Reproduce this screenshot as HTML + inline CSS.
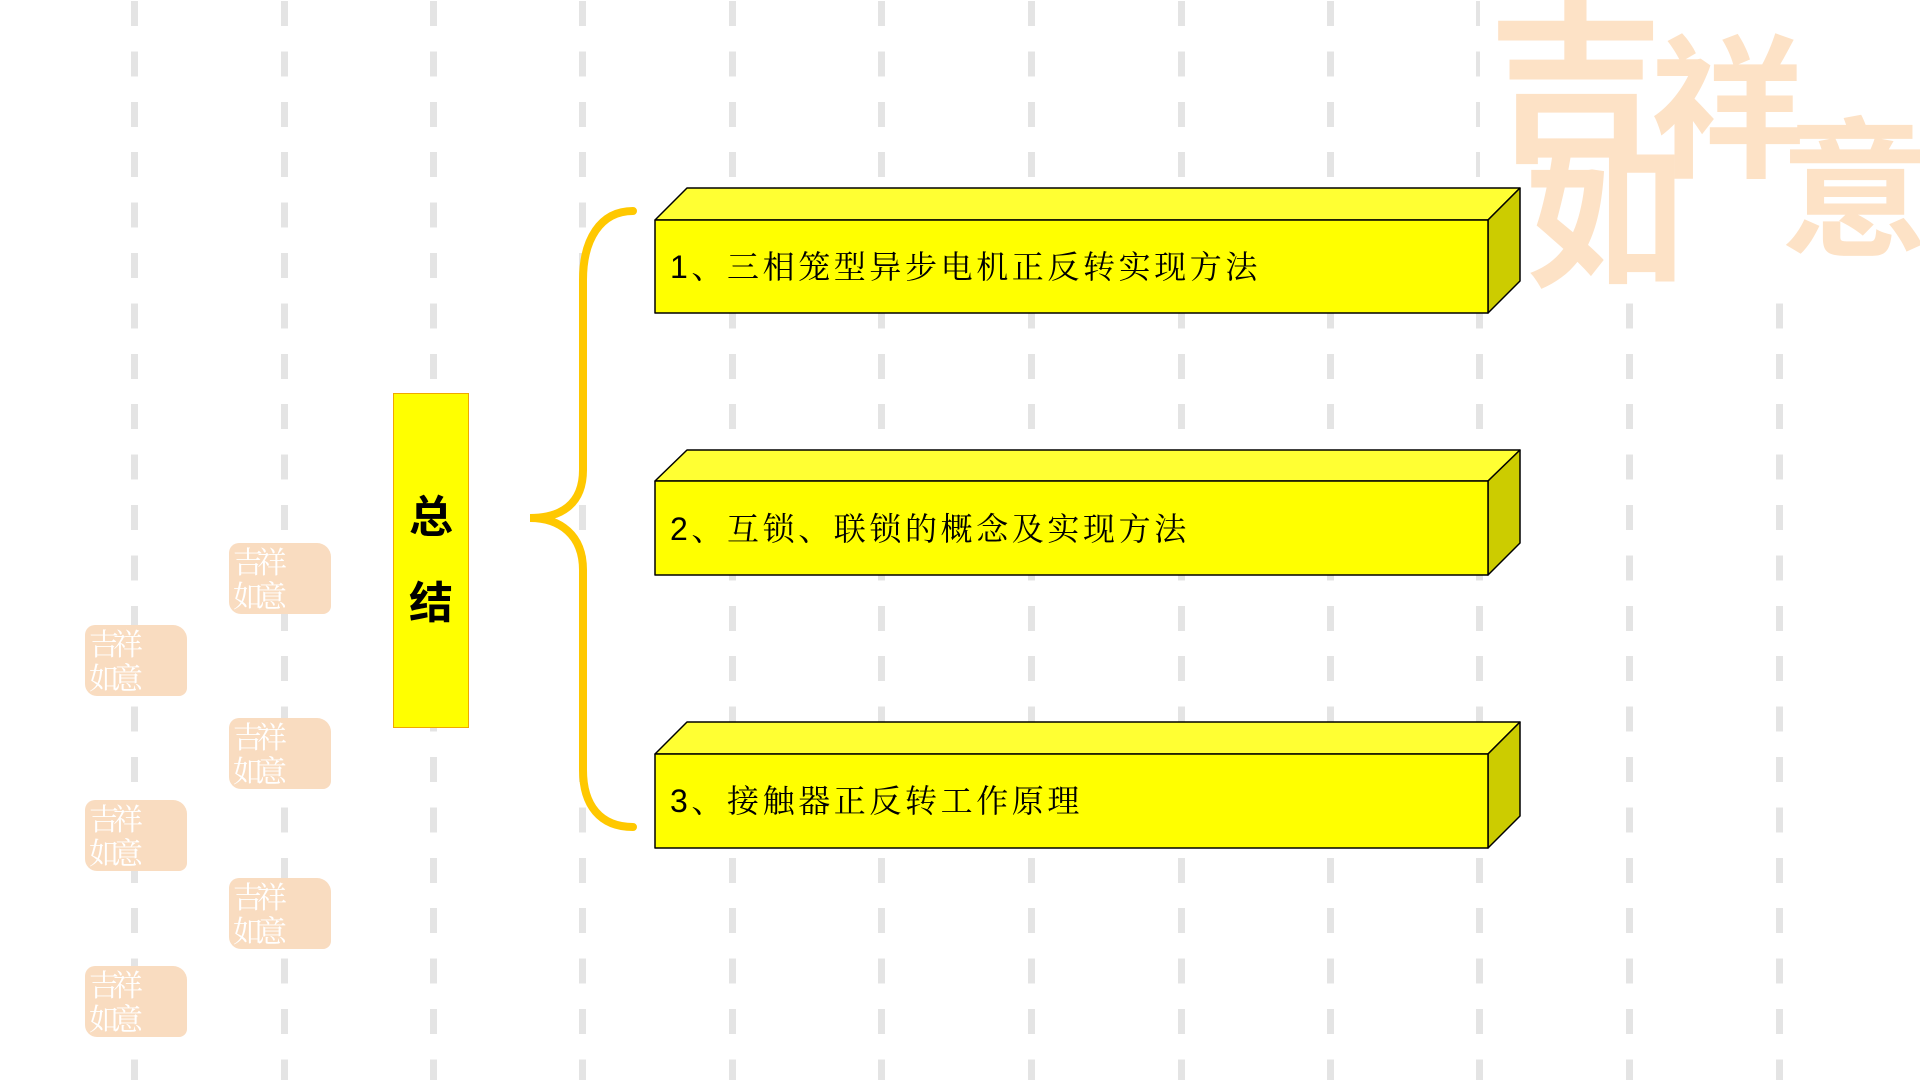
<!DOCTYPE html>
<html><head><meta charset="utf-8"><style>
html,body{margin:0;padding:0;width:1920px;height:1080px;overflow:hidden;background:#fff;position:relative;font-family:"Liberation Sans","Noto Sans CJK SC",sans-serif}
.dl{position:absolute;top:0;width:7px;height:1080px;background:repeating-linear-gradient(to bottom,transparent 0,transparent 1px,#e4e4e4 1px,#e4e4e4 26px,transparent 26px,transparent 50.4px)}
.st{position:absolute;width:102px;height:71px;background:#f9dcc0;border-radius:10px 14px 8px 12px;overflow:hidden;color:#fff;font-family:"Noto Serif CJK SC",serif;font-size:30px;line-height:34px;letter-spacing:-6px;padding-left:4px;box-sizing:border-box}
.bg{position:absolute;color:#fde2c6;font-family:'Noto Sans CJK SC',sans-serif;font-weight:bold}
</style></head><body>
<div class="dl" style="left:131px"></div><div class="dl" style="left:281px"></div><div class="dl" style="left:430px"></div><div class="dl" style="left:579px"></div><div class="dl" style="left:729px"></div><div class="dl" style="left:878px"></div><div class="dl" style="left:1028px"></div><div class="dl" style="left:1178px"></div><div class="dl" style="left:1327px"></div><div class="dl" style="left:1476px"></div><div class="dl" style="left:1626px"></div><div class="dl" style="left:1776px"></div>

<div style="position:absolute;left:1480px;top:0;width:440px;height:300px;background:#fff"></div>
<div class="bg" style="left:1488px;top:-15px;font-size:175px;line-height:175px;">吉</div>
<div class="bg" style="left:1650px;top:20px;font-size:155px;line-height:155px;">祥</div>
<div class="bg" style="left:1525px;top:125px;font-size:160px;line-height:160px;">如</div>
<div class="bg" style="left:1780px;top:95px;font-size:150px;line-height:170px;">意</div>

<div class="st" style="left:229px;top:543px">吉祥<br>如意</div>
<div class="st" style="left:85px;top:625px">吉祥<br>如意</div>
<div class="st" style="left:229px;top:718px">吉祥<br>如意</div>
<div class="st" style="left:85px;top:800px">吉祥<br>如意</div>
<div class="st" style="left:229px;top:878px">吉祥<br>如意</div>
<div class="st" style="left:85px;top:966px">吉祥<br>如意</div>

<div style="position:absolute;left:393px;top:393px;width:74px;height:333px;background:#ffff00;border:1.5px solid #f0a800;display:flex;flex-direction:column;align-items:center;justify-content:center;font-weight:bold;font-size:44px;line-height:86px;color:#000">总<br>结</div>

<svg width="1920" height="1080" style="position:absolute;left:0;top:0">
<path d="M633 211 C600 211 583 240 583 280 L583 470 C583 505 560 518 530 518 C560 518 583 535 583 570 L583 770 C583 805 600 827 633 827" fill="none" stroke="#ffc800" stroke-width="8" stroke-linecap="round"/>
<g stroke="#000" stroke-width="1.5" stroke-linejoin="round">
<polygon points="655,220 687,188 1520,188 1488,220" fill="#ffff33"/>
<polygon points="1488,220 1520,188 1520,281 1488,313" fill="#cccc00"/>
<rect x="655" y="220" width="833" height="93" fill="#ffff00"/>
<polygon points="655,481 687,450 1520,450 1488,481" fill="#ffff33"/>
<polygon points="1488,481 1520,450 1520,543 1488,575" fill="#cccc00"/>
<rect x="655" y="481" width="833" height="94" fill="#ffff00"/>
<polygon points="655,754 687,722 1520,722 1488,754" fill="#ffff33"/>
<polygon points="1488,754 1520,722 1520,816 1488,848" fill="#cccc00"/>
<rect x="655" y="754" width="833" height="94" fill="#ffff00"/>
</g>
<g font-family="Liberation Sans, Noto Serif CJK SC, serif" font-size="32" fill="#000" letter-spacing="3.6">
<text x="670" y="278">1、三相笼型异步电机正反转实现方法</text>
<text x="670" y="540">2、互锁、联锁的概念及实现方法</text>
<text x="670" y="812">3、接触器正反转工作原理</text>
</g>
</svg>
</body></html>
